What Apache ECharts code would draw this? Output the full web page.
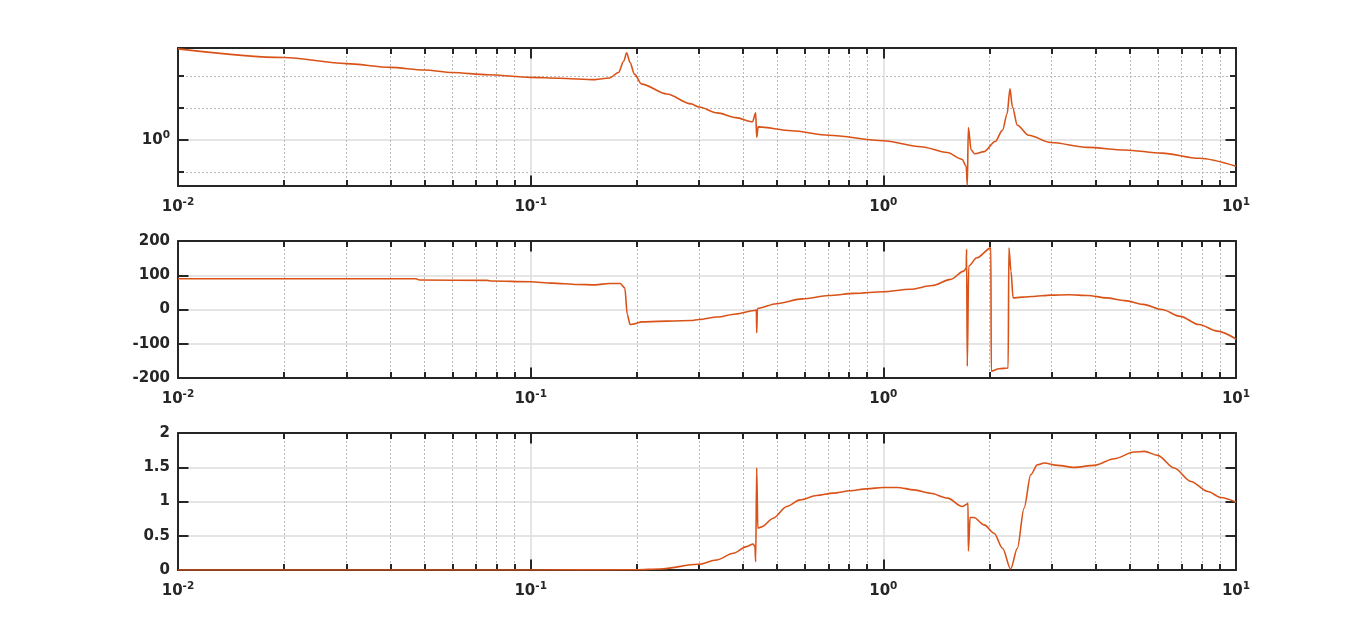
<!DOCTYPE html>
<html><head><meta charset="utf-8">
<script src="https://cdn.jsdelivr.net/npm/echarts@6/dist/echarts.min.js"></script>
<style>html,body{margin:0;padding:0;background:#fff;}#c{width:1366px;height:642px;}</style>
</head><body><div id="c"></div>
<script>
// ---------- data (frequency in Hz) ----------
const xTickExponents = [-2, -1, 0, 1];
const xRange = [0.01, 10];

const magFreq = [0.01,0.020,0.030,0.040,0.050,0.060,0.0755,0.1,0.1205,0.1524,0.1671,0.1774,0.1837,0.1871,0.1914,0.1968,0.2065,0.2432,0.2851,
  0.300,0.338,0.382,0.4256,0.4345,0.4375,0.4416,0.5483,0.6998,1.0,1.279,1.517,1.671,1.718,1.730,1.742,1.774,1.816,1.932,2.075,2.178,2.244,2.286,2.323,2.399,2.582,2.985,3.802,4.842,6.166,7.852,10];
const magValue = [1.928,1.811,1.734,1.687,1.656,1.626,1.600,1.570,1.560,1.545,1.563,1.626,1.766,1.875,1.746,1.607,1.496,1.393,1.297,
  1.268,1.216,1.175,1.140,1.216,1.019,1.099,1.069,1.035,0.995,0.953,0.914,0.871,0.828,0.721,1.094,0.931,0.906,0.920,0.989,1.074,1.208,1.445,1.268,1.112,1.035,0.982,0.948,0.931,0.910,0.877,0.828];
const magRange = [0.718, 1.94];
const magMajorTicks = [1];
const magMinorTicks = [0.7943, 1.2589, 1.5849];

const phaseFreq = [0.01,0.0473,0.0484,0.0755,0.0773,0.1,0.1151,0.1355,0.1524,0.1671,0.1795,0.1849,0.1879,0.1914,0.1968,0.2065,0.2851,
  0.300,0.338,0.382,0.4305,0.4365,0.4375,0.4395,0.4977,0.590,0.700,0.828,1.0,1.191,1.377,1.552,1.690,1.718,1.722,1.730,1.746,1.841,2.018,2.023,2.128,2.259,2.270,2.301,2.333,2.642,2.985,3.365,3.802,4.285,4.842,5.458,6.166,6.950,7.852,8.851,10];
const phaseValue = [90,90,86,85,83,81,77,73,72,76,76,63,-15,-44,-42,-36,-32,
  -29,-22,-13,-3,-1,-68,3,17,31,41,47,52,59,70,88,112,120,176,-166,127,151,180,-180,-173,-171,180,112,34,38,42,43,41,34,26,15,0,-20,-44,-63,-86];
const phaseTicks = [-200, -100, 0, 100, 200];

const cohFreq = [0.01,0.1,0.199,0.2328,0.2985,0.3365,0.3758,0.4093,0.4276,0.4325,0.4345,0.4375,0.4406,0.4519,0.4875,0.5321,0.5808,0.6471,0.7211,0.8035,0.8974,1.0,
  1.096,1.222,1.361,1.521,1.675,1.726,1.738,1.742,1.762,1.807,1.932,2.061,2.178,2.296,2.399,2.506,2.618,2.735,2.858,3.119,3.475,3.963,4.519,5.140,5.495,5.998,6.683,7.447,8.318,9.057,10];
const cohValue = [0,0.001,0.003,0.015,0.083,0.146,0.244,0.341,0.380,0.34,0.12,1.49,0.61,0.63,0.756,0.927,1.024,1.088,1.122,1.156,1.185,1.205,
  1.205,1.17,1.12,1.05,0.927,0.96,0.976,0.278,0.766,0.766,0.659,0.537,0.317,0.015,0.317,0.902,1.39,1.537,1.561,1.527,1.498,1.527,1.624,1.722,1.732,1.673,1.488,1.293,1.146,1.059,0.99];
const cohTicks = [0, 0.5, 1, 1.5, 2];

// ---------- styling ----------
const AX = '#262626', LINE = '#D95319', GRID = '#dcdcdc', MINOR = '#b8b8b8';
const FONT = 'DejaVu Sans';
const rich = {
  b: {fontSize: 15, fontWeight: 'bold', fontFamily: FONT, color: AX},
  s: {fontSize: 10.5, fontWeight: 'bold', fontFamily: FONT, color: AX, padding: [0, 0, 9, 0]}
};
const L = Math.log10;
const minorX = [];
for (let e = xTickExponents[0]; e < xTickExponents[xTickExponents.length - 1]; e++)
  for (let k = 2; k <= 9; k++) minorX.push(L(k * Math.pow(10, e)));

const grids = [
  {left: 178, right: 130, top: 48, height: 138},
  {left: 178, right: 130, top: 241, height: 137},
  {left: 178, right: 130, top: 433, height: 137}
];
grids.forEach(g => g.outerBoundsMode = 'none');

const xMin = L(xRange[0]), xMax = L(xRange[1]);
const xAxes = [];
grids.forEach((g, i) => {
  xAxes.push({gridIndex: i, type: 'value', min: xMin, max: xMax, interval: 1, position: 'bottom',
    axisLine: {show: true, onZero: false, lineStyle: {color: AX, width: 2}},
    axisTick: {show: true, inside: true, length: 10.5, lineStyle: {color: AX, width: 2}},
    axisLabel: {show: true, margin: 11, formatter: v => '{b|10}{s|' + Math.round(v) + '}', rich: rich},
    splitLine: {show: true, lineStyle: {color: GRID, width: 1.5}}});
  xAxes.push({gridIndex: i, type: 'value', min: xMin, max: xMax, position: 'bottom',
    axisLine: {show: false, onZero: false},
    axisTick: {show: true, inside: true, length: 6, customValues: minorX, lineStyle: {color: AX, width: 2}},
    axisLabel: {show: false},
    splitLine: {show: true, lineStyle: {color: MINOR, width: 1, type: [2, 2]}}});
  xAxes.push({gridIndex: i, type: 'value', min: xMin, max: xMax, interval: 1, position: 'top',
    axisLine: {show: true, onZero: false, lineStyle: {color: AX, width: 2}},
    axisTick: {show: true, inside: true, length: 10.5, lineStyle: {color: AX, width: 2}},
    axisLabel: {show: false}, splitLine: {show: false}});
  xAxes.push({gridIndex: i, type: 'value', min: xMin, max: xMax, position: 'top',
    axisLine: {show: false, onZero: false},
    axisTick: {show: true, inside: true, length: 6, customValues: minorX, lineStyle: {color: AX, width: 2}},
    axisLabel: {show: false}, splitLine: {show: false}});
});

const yLabelStyle = {fontSize: 15, fontWeight: 'bold', fontFamily: FONT, color: AX, margin: 8};
const yAxes = [];
// magnitude (log10 space)
const mMin = L(magRange[0]), mMax = L(magRange[1]);
yAxes.push({gridIndex: 0, type: 'value', min: mMin, max: mMax, position: 'left',
  axisLine: {show: true, onZero: false, lineStyle: {color: AX, width: 2}},
  axisTick: {show: true, inside: true, length: 10.5, customValues: magMajorTicks.map(L), lineStyle: {color: AX, width: 2}},
  axisLabel: Object.assign({}, yLabelStyle, {customValues: magMajorTicks.map(L), formatter: v => '{b|10}{s|' + Math.round(v) + '}', rich: rich}),
  splitLine: {show: true, lineStyle: {color: GRID, width: 1.5}}});
yAxes.push({gridIndex: 0, type: 'value', min: mMin, max: mMax, position: 'left',
  axisLine: {show: false, onZero: false},
  axisTick: {show: true, inside: true, length: 6, customValues: magMinorTicks.map(L), lineStyle: {color: AX, width: 2}},
  axisLabel: {show: false},
  splitLine: {show: true, lineStyle: {color: MINOR, width: 1, type: [2, 2]}}});
yAxes.push({gridIndex: 0, type: 'value', min: mMin, max: mMax, position: 'right',
  axisLine: {show: true, onZero: false, lineStyle: {color: AX, width: 2}},
  axisTick: {show: true, inside: true, length: 10.5, customValues: magMajorTicks.map(L), lineStyle: {color: AX, width: 2}},
  axisLabel: {show: false}, splitLine: {show: false}});
yAxes.push({gridIndex: 0, type: 'value', min: mMin, max: mMax, position: 'right',
  axisLine: {show: false, onZero: false},
  axisTick: {show: true, inside: true, length: 6, customValues: magMinorTicks.map(L), lineStyle: {color: AX, width: 2}},
  axisLabel: {show: false}, splitLine: {show: false}});
// phase and coherence
[[1, phaseTicks], [2, cohTicks]].forEach(([gi, ticks]) => {
  const mn = ticks[0], mx = ticks[ticks.length - 1], step = ticks[1] - ticks[0];
  yAxes.push({gridIndex: gi, type: 'value', min: mn, max: mx, interval: step, position: 'left',
    axisLine: {show: true, onZero: false, lineStyle: {color: AX, width: 2}},
    axisTick: {show: true, inside: true, length: 10.5, lineStyle: {color: AX, width: 2}},
    axisLabel: yLabelStyle,
    splitLine: {show: true, lineStyle: {color: GRID, width: 1.5}}});
  yAxes.push({gridIndex: gi, type: 'value', min: mn, max: mx, interval: step, position: 'right',
    axisLine: {show: true, onZero: false, lineStyle: {color: AX, width: 2}},
    axisTick: {show: true, inside: true, length: 10.5, lineStyle: {color: AX, width: 2}},
    axisLabel: {show: false}, splitLine: {show: false}});
});

function mk(freq, vals, xi, yi, ty) {
  return {type: 'line', xAxisIndex: xi, yAxisIndex: yi, showSymbol: false, symbol: 'none',
    smooth: 0.3, smoothMonotone: 'x', clip: true, animation: false, z: 3,
    lineStyle: {color: LINE, width: 1.6},
    data: freq.map((f, i) => [L(f), ty ? ty(vals[i]) : vals[i]])};
}

const chart = echarts.init(document.getElementById('c'));
chart.setOption({
  animation: false,
  backgroundColor: '#fff',
  grid: grids,
  xAxis: xAxes,
  yAxis: yAxes,
  series: [
    mk(magFreq, magValue, 0, 0, L),
    mk(phaseFreq, phaseValue, 4, 4),
    mk(cohFreq, cohValue, 8, 6)
  ]
});
</script></body></html>
